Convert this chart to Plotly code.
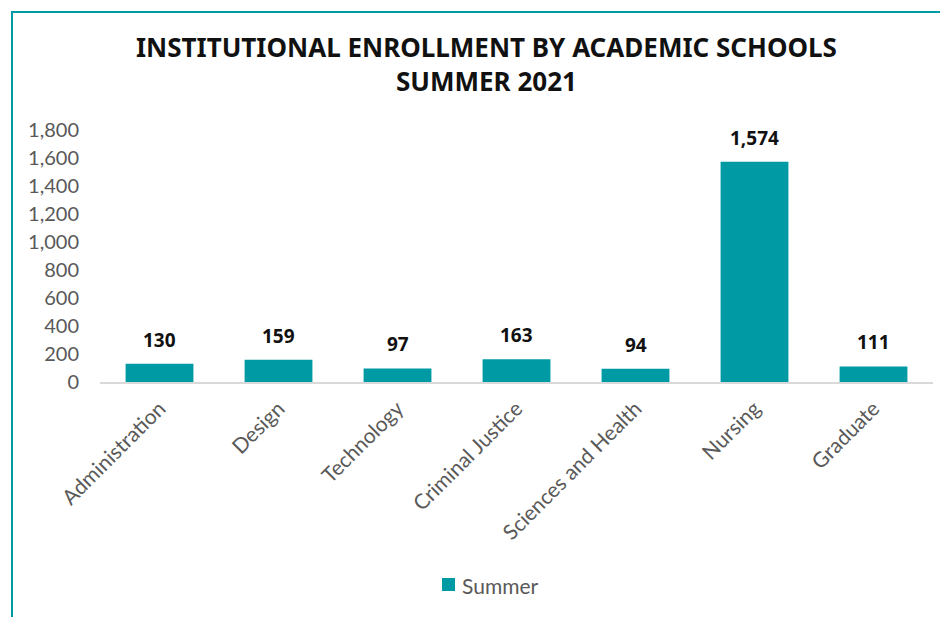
import plotly.graph_objects as go

categories = ["Administration", "Design", "Technology", "Criminal Justice",
              "Sciences and Health", "Nursing", "Graduate"]
summer = [130, 159, 97, 163, 94, 1574, 111]
y_ticks = [0, 200, 400, 600, 800, 1000, 1200, 1400, 1600, 1800]
title_lines = ["INSTITUTIONAL ENROLLMENT BY ACADEMIC SCHOOLS", "SUMMER 2021"]
series_name = "Summer"

TEAL = "#009AA5"
GRAY = "#595959"

OFF = 8  # page body margin offset
W, H = 948 - OFF, 617 - OFF
pl, pr, pt, pb = 100 - OFF, 15, 130 - OFF, 235
pw, ph = W - pl - pr, H - pt - pb
def px(x): return (x - OFF - pl) / pw          # screen px -> paper
def py(y): return (H - pb - (y - OFF)) / ph    # screen px -> paper

fig = go.Figure()
fig.add_trace(go.Bar(
    x=categories, y=summer, name=series_name,
    marker=dict(color=TEAL, line=dict(width=0)),
    width=0.57, showlegend=False,
))

for c, v in zip(categories, summer):
    fig.add_annotation(x=c, y=v, text=f"{v:,}", showarrow=False,
                       yanchor="bottom", yshift=9,
                       font=dict(family="Noto Sans", size=19, color="#111111", weight="bold"))

fig.add_annotation(xref="paper", yref="paper", x=px(486), y=py(64),
                   text="<br>".join(title_lines), showarrow=False,
                   xanchor="center", yanchor="middle", align="center",
                   font=dict(family="Noto Sans", size=26, color="#111111", weight="bold"))

fig.add_shape(type="rect", xref="paper", yref="paper",
              x0=px(442), x1=px(455), y0=py(578), y1=py(591),
              fillcolor=TEAL, line=dict(width=0))
fig.add_annotation(xref="paper", yref="paper", x=px(460), y=py(585),
                   text=series_name, showarrow=False, xanchor="left", yanchor="middle",
                   font=dict(family="Lato", size=21, color=GRAY))

fig.update_layout(
    width=W, height=H,
    paper_bgcolor="white", plot_bgcolor="white",
    margin=dict(l=pl, r=pr, t=pt, b=pb, autoexpand=False),
    showlegend=False,
    xaxis=dict(
        tickangle=-45, tickfont=dict(family="Lato", size=21, color=GRAY),
        showline=True, linecolor="#D9D9D9", linewidth=2,
        showgrid=False, ticks="", automargin=False, ticklabelstandoff=4,
    ),
    yaxis=dict(
        range=[0, 1800], tickvals=y_ticks, tickformat=",d",
        tickfont=dict(family="Lato", size=20, color=GRAY),
        showgrid=False, zeroline=False, showline=False, ticks="",
        ticklabelstandoff=20, automargin=False,
    ),
    bargap=0.43,
)

fig.add_shape(type="line", xref="paper", yref="paper", x0=px(11), x1=px(960), y0=py(12), y1=py(12),
              line=dict(color=TEAL, width=2))
fig.add_shape(type="line", xref="paper", yref="paper", x0=px(12), x1=px(12), y0=py(12), y1=py(630),
              line=dict(color=TEAL, width=2))

fig.write_html("out.html")
